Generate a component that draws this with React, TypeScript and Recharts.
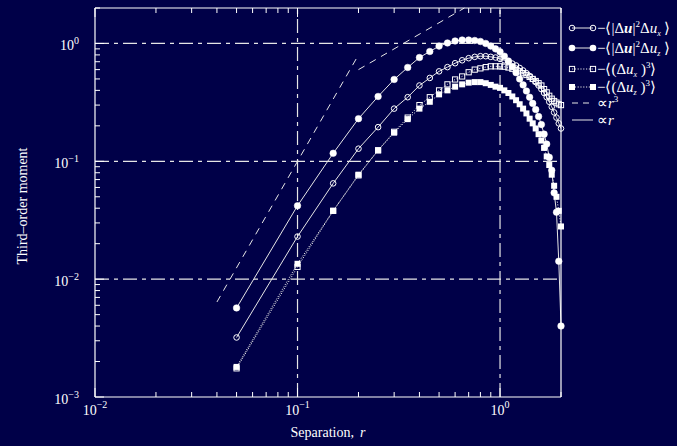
import React from 'react';
import { ComposedChart, Line, XAxis, YAxis, ReferenceLine } from 'recharts';

const BG = '#000048';
const FG = '#ffffff';
const LINE = '#e6e6e6';
const SERIF = '"Liberation Serif", "Times New Roman", serif';

// separations r
const rValues = [
  0.05, 0.1, 0.15, 0.2, 0.25, 0.3, 0.35, 0.4, 0.45, 0.5,
  0.55, 0.6, 0.65, 0.7, 0.75, 0.8, 0.85, 0.9, 0.95, 1.0,
  1.05, 1.1, 1.15, 1.2, 1.25, 1.3, 1.35, 1.4, 1.45, 1.5,
  1.55, 1.6, 1.65, 1.7, 1.75, 1.8, 1.85, 1.9, 1.95, 2.0,
];
// -<|du|^2 du_x>  (open circles)
const absSqDux = [
  0.0032, 0.023, 0.065, 0.128, 0.195, 0.28, 0.35, 0.44, 0.51, 0.58,
  0.63, 0.68, 0.72, 0.75, 0.77, 0.78, 0.78, 0.77, 0.76, 0.74,
  0.72, 0.7, 0.675, 0.65, 0.62, 0.59, 0.56, 0.53, 0.5, 0.47,
  0.44, 0.41, 0.38, 0.35, 0.32, 0.29, 0.26, 0.235, 0.21, 0.19,
];
// -<|du|^2 du_z>  (filled circles)
const absSqDuz = [
  0.0057, 0.042, 0.117, 0.23, 0.355, 0.495, 0.626, 0.76, 0.855, 0.95,
  1.01, 1.05, 1.07, 1.07, 1.06, 1.04, 1.0, 0.95, 0.9, 0.85,
  0.78, 0.71, 0.635, 0.565, 0.5, 0.445, 0.395, 0.35, 0.31, 0.275,
  0.24, 0.205, 0.17, 0.14, 0.108, 0.084, 0.054, 0.037, 0.0142, 0.004,
];
// -<(du_x)^3>  (open squares)
const cubeDux = [
  0.00175, 0.0127, 0.038, 0.076, 0.124, 0.178, 0.235, 0.3, 0.35, 0.4,
  0.45, 0.495, 0.525, 0.57, 0.6, 0.615, 0.63, 0.64, 0.64, 0.64,
  0.635, 0.625, 0.61, 0.595, 0.58, 0.56, 0.54, 0.52, 0.5, 0.48,
  0.46, 0.44, 0.41, 0.385, 0.36, 0.34, 0.325, 0.315, 0.305, 0.3,
];
// -<(du_z)^3>  (filled squares)
const cubeDuz = [
  0.0018, 0.0135, 0.038, 0.077, 0.124, 0.175, 0.228, 0.28, 0.32, 0.37,
  0.4, 0.43, 0.45, 0.465, 0.47, 0.47, 0.46, 0.445, 0.43, 0.42,
  0.4, 0.38, 0.355, 0.33, 0.305, 0.28, 0.255, 0.23, 0.21, 0.19,
  0.17, 0.15, 0.13, 0.11, 0.093, 0.077, 0.062, 0.05, 0.038, 0.028,
];
// reference power laws
const cubicR = [0.04, 0.2];
const cubicV = [0.0064, 0.8];
const linearR = [0.2, 0.667];
const linearV = [0.6, 2.0];

const xTicks = [
  0.01, 0.02, 0.03, 0.04, 0.05, 0.06, 0.07, 0.08, 0.09,
  0.1, 0.2, 0.3, 0.4, 0.5, 0.6, 0.7, 0.8, 0.9, 1, 2,
];
const yTicks = [
  0.001, 0.002, 0.003, 0.004, 0.005, 0.006, 0.007, 0.008, 0.009,
  0.01, 0.02, 0.03, 0.04, 0.05, 0.06, 0.07, 0.08, 0.09,
  0.1, 0.2, 0.3, 0.4, 0.5, 0.6, 0.7, 0.8, 0.9, 1, 2,
];
const xMajor = [0.01, 0.1, 1];
const yMajor = [0.001, 0.01, 0.1, 1];
const xGrid = [0.1, 1];
const yGrid = [0.01, 0.1, 1];

const data = rValues.map((r, i) => ({
  r,
  a: absSqDux[i],
  b: absSqDuz[i],
  c: cubeDux[i],
  d: cubeDuz[i],
}));
const cubicData = cubicR.map((r, i) => ({ r, v: cubicV[i] }));
const linearData = linearR.map((r, i) => ({ r, v: linearV[i] }));

const expText = (v: number) => {
  const e = Math.round(Math.log10(v));
  return e < 0 ? '\u2212' + -e : String(e);
};

const BottomTick = (props: any) => {
  const { x, y, payload } = props;
  const v = payload.value;
  const major = xMajor.includes(v);
  return (
    <g>
      <line x1={x} x2={x} y1={y} y2={y - (major ? 9 : 5)} stroke={FG} strokeWidth={1} />
      {major && (
        <text x={x} y={y + 18} textAnchor="middle" fill={FG} fontSize={14} fontFamily={SERIF}>
          10<tspan dy={-7} fontSize={10}>{expText(v)}</tspan>
        </text>
      )}
    </g>
  );
};

const TopTick = (props: any) => {
  const { x, y, payload } = props;
  const major = xMajor.includes(payload.value);
  return <line x1={x} x2={x} y1={y} y2={y + (major ? 9 : 5)} stroke={FG} strokeWidth={1} />;
};

const LeftTick = (props: any) => {
  const { x, y, payload } = props;
  const v = payload.value;
  const major = yMajor.includes(v);
  return (
    <g>
      <line x1={x} x2={x + (major ? 9 : 5)} y1={y} y2={y} stroke={FG} strokeWidth={1} />
      {major && (
        <text x={x - 16} y={y + 7} textAnchor="end" fill={FG} fontSize={14} fontFamily={SERIF}>
          10<tspan dy={-6} fontSize={10}>{expText(v)}</tspan>
        </text>
      )}
    </g>
  );
};

const EmptyTick = () => <g />;

const OpenCircle = (props: any) => {
  const { cx, cy } = props;
  if (cx == null || cy == null) return <g />;
  return <circle cx={cx} cy={cy} r={2.8} fill="none" stroke={FG} strokeWidth={1} />;
};
const FilledCircle = (props: any) => {
  const { cx, cy } = props;
  if (cx == null || cy == null) return <g />;
  return <circle cx={cx} cy={cy} r={3.3} fill={FG} stroke={FG} strokeWidth={0.5} />;
};
const OpenSquare = (props: any) => {
  const { cx, cy } = props;
  if (cx == null || cy == null) return <g />;
  return <rect x={cx - 2.6} y={cy - 2.6} width={5.2} height={5.2} fill="none" stroke={FG} strokeWidth={1} />;
};
const FilledSquare = (props: any) => {
  const { cx, cy } = props;
  if (cx == null || cy == null) return <g />;
  return <rect x={cx - 3} y={cy - 3} width={6} height={6} fill={FG} />;
};

const Sym = ({ kind, x, y }: { kind: string; x: number; y: number }) => {
  if (kind === 'oc') return <circle cx={x} cy={y} r={2.8} fill="none" stroke={FG} />;
  if (kind === 'fc') return <circle cx={x} cy={y} r={3.3} fill={FG} />;
  if (kind === 'os') return <rect x={x - 2.6} y={y - 2.6} width={5.2} height={5.2} fill="none" stroke={FG} />;
  return <rect x={x - 3} y={y - 3} width={6} height={6} fill={FG} />;
};

const LegendOverlay = () => {
  const x1 = 572;
  const x2 = 593;
  const tx = 597;
  const rows = [28, 48, 69, 87, 103, 120];
  const t = { fill: FG, fontSize: 15, fontFamily: SERIF } as any;
  return (
    <svg width={677} height={446} style={{ position: 'absolute', left: 0, top: 0, pointerEvents: 'none' }}>
      {/* row 1 */}
      <line x1={x1} x2={x2} y1={rows[0]} y2={rows[0]} stroke={LINE} />
      <Sym kind="oc" x={x1} y={rows[0]} />
      <Sym kind="oc" x={x2} y={rows[0]} />
      <text x={tx} y={rows[0] + 5} {...t}>
        {'\u2212\u27E8|\u0394'}
        <tspan fontWeight="bold" fontStyle="italic">u</tspan>
        {'|'}
        <tspan dy={-6} fontSize={9}>2</tspan>
        <tspan dy={6}>{'\u0394'}</tspan>
        <tspan fontStyle="italic">u</tspan>
        <tspan dy={3} fontSize={8} fontStyle="italic">x</tspan>
        <tspan dy={-3}>{' \u27E9'}</tspan>
      </text>
      {/* row 2 */}
      <line x1={x1} x2={x2} y1={rows[1]} y2={rows[1]} stroke={LINE} />
      <Sym kind="fc" x={x1} y={rows[1]} />
      <Sym kind="fc" x={x2} y={rows[1]} />
      <text x={tx} y={rows[1] + 5} {...t}>
        {'\u2212\u27E8|\u0394'}
        <tspan fontWeight="bold" fontStyle="italic">u</tspan>
        {'|'}
        <tspan dy={-6} fontSize={9}>2</tspan>
        <tspan dy={6}>{'\u0394'}</tspan>
        <tspan fontStyle="italic">u</tspan>
        <tspan dy={3} fontSize={8} fontStyle="italic">z</tspan>
        <tspan dy={-3}>{' \u27E9'}</tspan>
      </text>
      {/* row 3 */}
      <line x1={x1} x2={x2} y1={rows[2]} y2={rows[2]} stroke={LINE} strokeDasharray="1.2 1.6" />
      <Sym kind="os" x={x1} y={rows[2]} />
      <Sym kind="os" x={x2} y={rows[2]} />
      <text x={tx} y={rows[2] + 5} {...t}>
        {'\u2212\u27E8(\u0394'}
        <tspan fontStyle="italic">u</tspan>
        <tspan dy={3} fontSize={8} fontStyle="italic">x</tspan>
        <tspan dy={-3}>{' )'}</tspan>
        <tspan dy={-6} fontSize={9}>3</tspan>
        <tspan dy={6}>{'\u27E9'}</tspan>
      </text>
      {/* row 4 */}
      <line x1={x1} x2={x2} y1={rows[3]} y2={rows[3]} stroke={LINE} strokeDasharray="1.2 1.6" />
      <Sym kind="fs" x={x1} y={rows[3]} />
      <Sym kind="fs" x={x2} y={rows[3]} />
      <text x={tx} y={rows[3] + 5} {...t}>
        {'\u2212\u27E8(\u0394'}
        <tspan fontStyle="italic">u</tspan>
        <tspan dy={3} fontSize={8} fontStyle="italic">z</tspan>
        <tspan dy={-3}>{' )'}</tspan>
        <tspan dy={-6} fontSize={9}>3</tspan>
        <tspan dy={6}>{'\u27E9'}</tspan>
      </text>
      {/* row 5 */}
      <line x1={x1} x2={x2} y1={rows[4]} y2={rows[4]} stroke={LINE} strokeDasharray="6 5" />
      <text x={tx} y={rows[4] + 5} {...t}>
        {'\u221D'}
        <tspan fontStyle="italic">r</tspan>
        <tspan dy={-6} fontSize={9}>3</tspan>
      </text>
      {/* row 6 */}
      <line x1={x1} x2={x2} y1={rows[5]} y2={rows[5]} stroke={LINE} />
      <text x={tx} y={rows[5] + 5} {...t}>
        {'\u221D'}
        <tspan fontStyle="italic">r</tspan>
      </text>
      {/* axis titles */}
      <text x={328} y={437} textAnchor="middle" fill={FG} fontSize={14} fontFamily={SERIF}>
        Separation,<tspan dx={6} fontStyle="italic">r</tspan>
      </text>
      <text transform="translate(27,206) rotate(-90)" textAnchor="middle" fill={FG} fontSize={14} fontFamily={SERIF}>
        {'Third\u2013order moment'}
      </text>
    </svg>
  );
};

export default function App() {
  return (
    <div style={{ position: 'absolute', left: 0, top: 0, width: 677, height: 446, background: BG, overflow: 'hidden' }}>
      <ComposedChart
        width={677}
        height={446}
        data={data}
        margin={{ top: 7, right: 115, bottom: 19, left: 35 }}
      >
        <XAxis
          dataKey="r"
          type="number"
          scale="log"
          domain={[0.01, 2]}
          ticks={xTicks}
          interval={0}
          height={30}
          tickSize={0}
          tickMargin={0}
          tickLine={false}
          axisLine={{ stroke: FG, strokeWidth: 1.2 }}
          tick={<BottomTick />}
        />
        <XAxis
          xAxisId="top"
          orientation="top"
          dataKey="r"
          type="number"
          scale="log"
          domain={[0.01, 2]}
          ticks={xTicks}
          interval={0}
          height={1}
          tickSize={0}
          tickMargin={0}
          tickLine={false}
          axisLine={{ stroke: FG, strokeWidth: 1.2 }}
          tick={<TopTick />}
        />
        <YAxis
          type="number"
          scale="log"
          domain={[0.001, 2]}
          ticks={yTicks}
          interval={0}
          width={60}
          tickSize={0}
          tickMargin={0}
          tickLine={false}
          axisLine={{ stroke: FG, strokeWidth: 1.2 }}
          tick={<LeftTick />}
        />
        <YAxis
          yAxisId="right"
          orientation="right"
          type="number"
          scale="log"
          domain={[0.001, 2]}
          ticks={yTicks}
          interval={0}
          width={1}
          tickSize={0}
          tickMargin={0}
          tickLine={false}
          axisLine={{ stroke: FG, strokeWidth: 1.2 }}
          tick={<EmptyTick />}
        />
        {xGrid.map((g) => (
          <ReferenceLine key={'x' + g} x={g} stroke={LINE} strokeWidth={1.2} strokeDasharray="14 5 4 5" />
        ))}
        {yGrid.map((g) => (
          <ReferenceLine key={'y' + g} y={g} stroke={LINE} strokeWidth={1.2} strokeDasharray="14 5 4 5" />
        ))}
        <Line
          data={cubicData}
          dataKey="v"
          type="linear"
          stroke={LINE}
          strokeWidth={1}
          strokeDasharray="7 6"
          dot={false}
          isAnimationActive={false}
        />
        <Line
          data={linearData}
          dataKey="v"
          type="linear"
          stroke={LINE}
          strokeWidth={1}
          strokeDasharray="7 6"
          dot={false}
          isAnimationActive={false}
        />
        <Line dataKey="c" type="linear" stroke={LINE} strokeWidth={1} strokeDasharray="1.2 1.6" dot={<OpenSquare />} isAnimationActive={false} />
        <Line dataKey="d" type="linear" stroke={LINE} strokeWidth={1} strokeDasharray="1.2 1.6" dot={<FilledSquare />} isAnimationActive={false} />
        <Line dataKey="a" type="linear" stroke={LINE} strokeWidth={1} dot={<OpenCircle />} isAnimationActive={false} />
        <Line dataKey="b" type="linear" stroke={LINE} strokeWidth={1} dot={<FilledCircle />} isAnimationActive={false} />
      </ComposedChart>
      <LegendOverlay />
    </div>
  );
}
